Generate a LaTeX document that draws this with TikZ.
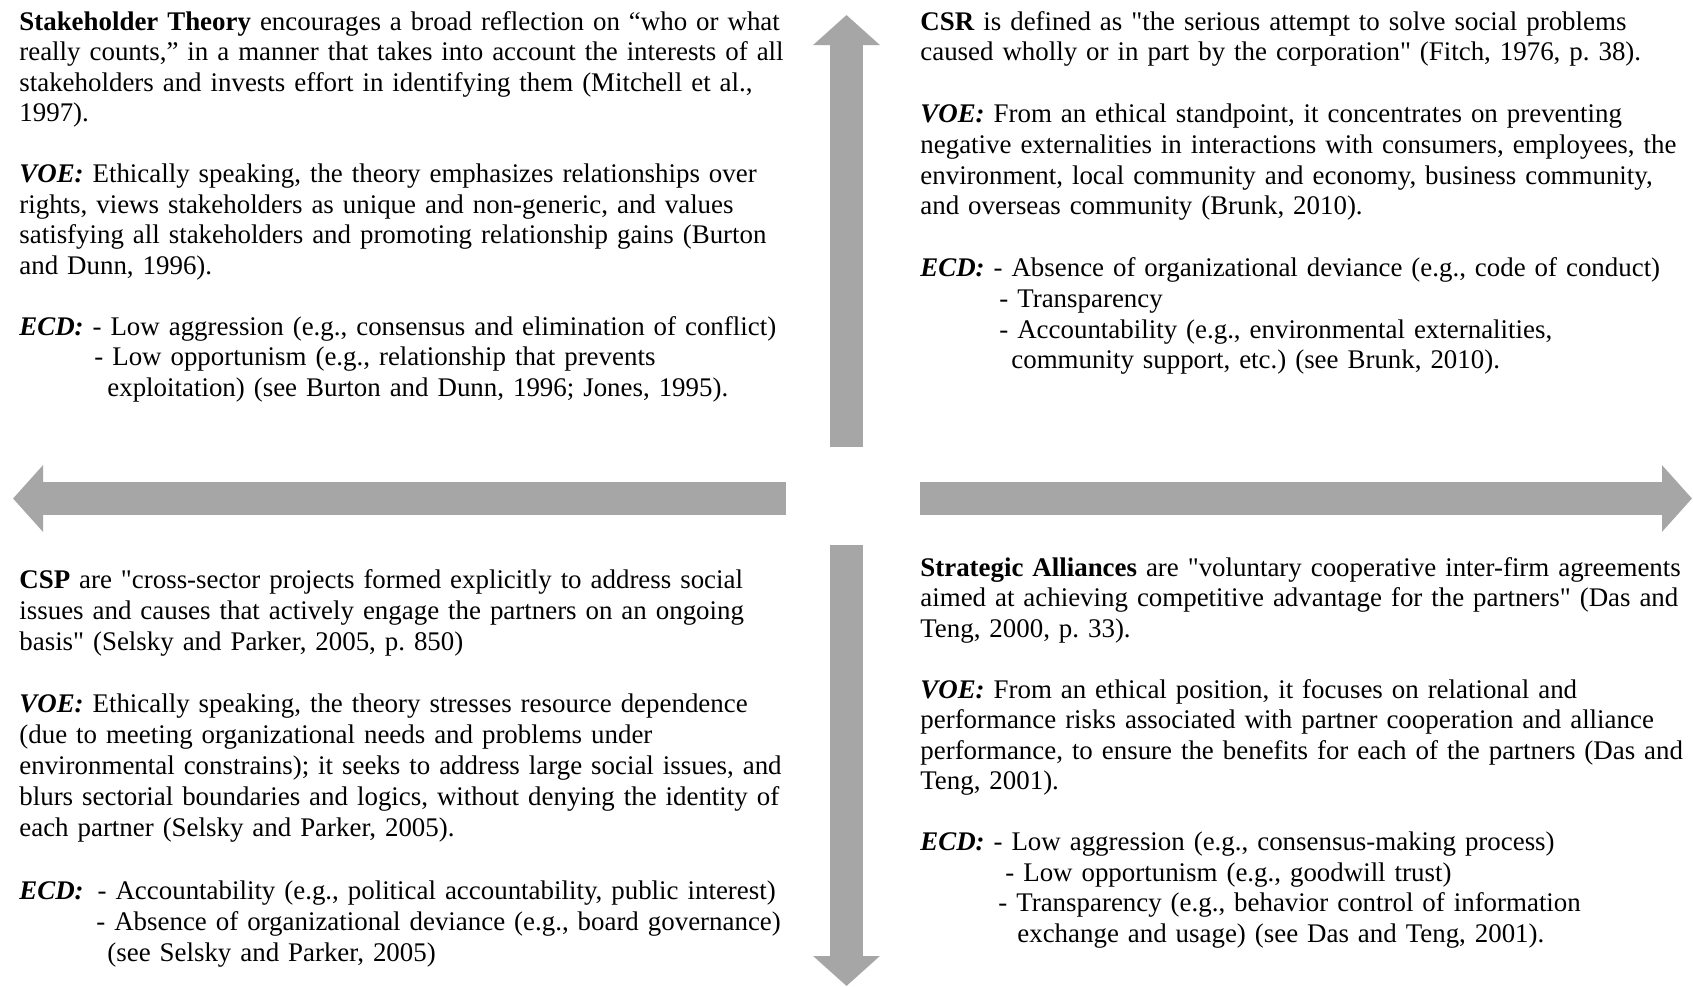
\documentclass[tikz,border=0pt]{standalone}
\usepackage{fontspec}
\setmainfont{Liberation Serif}[Ligatures=TeXOff]
\usepackage{tikz}
\usetikzlibrary{arrows.meta, positioning}
\definecolor{arrowgray}{RGB}{166,166,166}
\frenchspacing
\tikzset{
  quad/.style     = {anchor=base west, inner sep=0pt, text width=420pt,
                     align=left, font=\fontsize{13.45}{#1}\selectfont},
  quad/.default   = 15.25pt,
  bigarrow/.style = {draw=arrowgray, line width=16.5pt,
                     -{Triangle[length=15pt, width=32.5pt]}},
}
\newcommand{\voelabel}{\textbf{\textit{VOE:}}}
\newcommand{\ecdlabel}{\textbf{\textit{ECD:}}}

\begin{document}
\begin{tikzpicture}[x=0.5pt, y=-0.5pt]
  \useasboundingbox[fill=white] (0,0) rectangle (1693,986);

  % four quadrants
  \node[quad] (stake) at (19,30) {%
    \textbf{Stakeholder Theory} encourages a broad reflection on “who or what\\
    really counts,” in a manner that takes into account the interests of all\\
    stakeholders and invests effort in identifying them (Mitchell et al.,\\
    1997).\\[\baselineskip]
    \voelabel{} Ethically speaking, the theory emphasizes relationships over\\
    rights, views stakeholders as unique and non-generic, and values\\
    satisfying all stakeholders and promoting relationship gains (Burton\\
    and Dunn, 1996).\\[\baselineskip]
    \ecdlabel{} - Low aggression (e.g., consensus and elimination of conflict)\\
    \hspace*{37.5pt}- Low opportunism (e.g., relationship that prevents\\
    \hspace*{44pt}exploitation) (see Burton and Dunn, 1996; Jones, 1995).};

  \node[quad=15.4pt] (csr) at (920,30) {%
    \textbf{CSR} is defined as "the serious attempt to solve social problems\\
    caused wholly or in part by the corporation" (Fitch, 1976, p. 38).\\[\baselineskip]
    \voelabel{} From an ethical standpoint, it concentrates on preventing\\
    negative externalities in interactions with consumers, employees, the\\
    environment, local community and economy, business community,\\
    and overseas community (Brunk, 2010).\\[\baselineskip]
    \ecdlabel{} - Absence of organizational deviance (e.g., code of conduct)\\
    \hspace*{39.5pt}- Transparency\\
    \hspace*{39.5pt}- Accountability (e.g., environmental externalities,\\
    \hspace*{45.5pt}community support, etc.) (see Brunk, 2010).};

  \node[quad=15.55pt] (csp) at (19,588) {%
    \textbf{CSP} are "cross-sector projects formed explicitly to address social\\
    issues and causes that actively engage the partners on an ongoing\\
    basis" (Selsky and Parker, 2005, p. 850)\\[\baselineskip]
    \voelabel{} Ethically speaking, the theory stresses resource dependence\\
    (due to meeting organizational needs and problems under\\
    environmental constrains); it seeks to address large social issues, and\\
    blurs sectorial boundaries and logics, without denying the identity of\\
    each partner (Selsky and Parker, 2005).\\[\baselineskip]
    \ecdlabel{}\hspace{2.5pt} - Accountability (e.g., political accountability, public interest)\\
    \hspace*{38.5pt}- Absence of organizational deviance (e.g., board governance)\\
    \hspace*{44pt}(see Selsky and Parker, 2005)};

  \node[quad] (alliance) at (920,576) {%
    \textbf{Strategic Alliances} are "voluntary cooperative inter-firm agreements\\
    aimed at achieving competitive advantage for the partners" (Das and\\
    Teng, 2000, p. 33).\\[\baselineskip]
    \voelabel{} From an ethical position, it focuses on relational and\\
    performance risks associated with partner cooperation and alliance\\
    performance, to ensure the benefits for each of the partners (Das and\\
    Teng, 2001).\\[\baselineskip]
    \ecdlabel{} - Low aggression (e.g., consensus-making process)\\
    \hspace*{42.5pt}- Low opportunism (e.g., goodwill trust)\\
    \hspace*{39pt}- Transparency (e.g., behavior control of information\\
    \hspace*{48.5pt}exchange and usage) (see Das and Teng, 2001).};

  % the cross of block arrows
  \coordinate (upfoot)    at (846.5,447);
  \coordinate (uptip)     at (846.5,15);
  \coordinate (downfoot)  at (846.5,545);
  \coordinate (downtip)   at (846.5,986);
  \coordinate (leftfoot)  at (786,498.5);
  \coordinate (lefttip)   at (13,498.5);
  \coordinate (rightfoot) at (920,498.5);
  \coordinate (righttip)  at (1692,498.5);

  \draw[bigarrow] (upfoot) -- (uptip);
  \draw[bigarrow] (downfoot) -- (downtip);
  \draw[bigarrow] (leftfoot) -- (lefttip);
  \draw[bigarrow] (rightfoot) -- (righttip);
\end{tikzpicture}
\end{document}
